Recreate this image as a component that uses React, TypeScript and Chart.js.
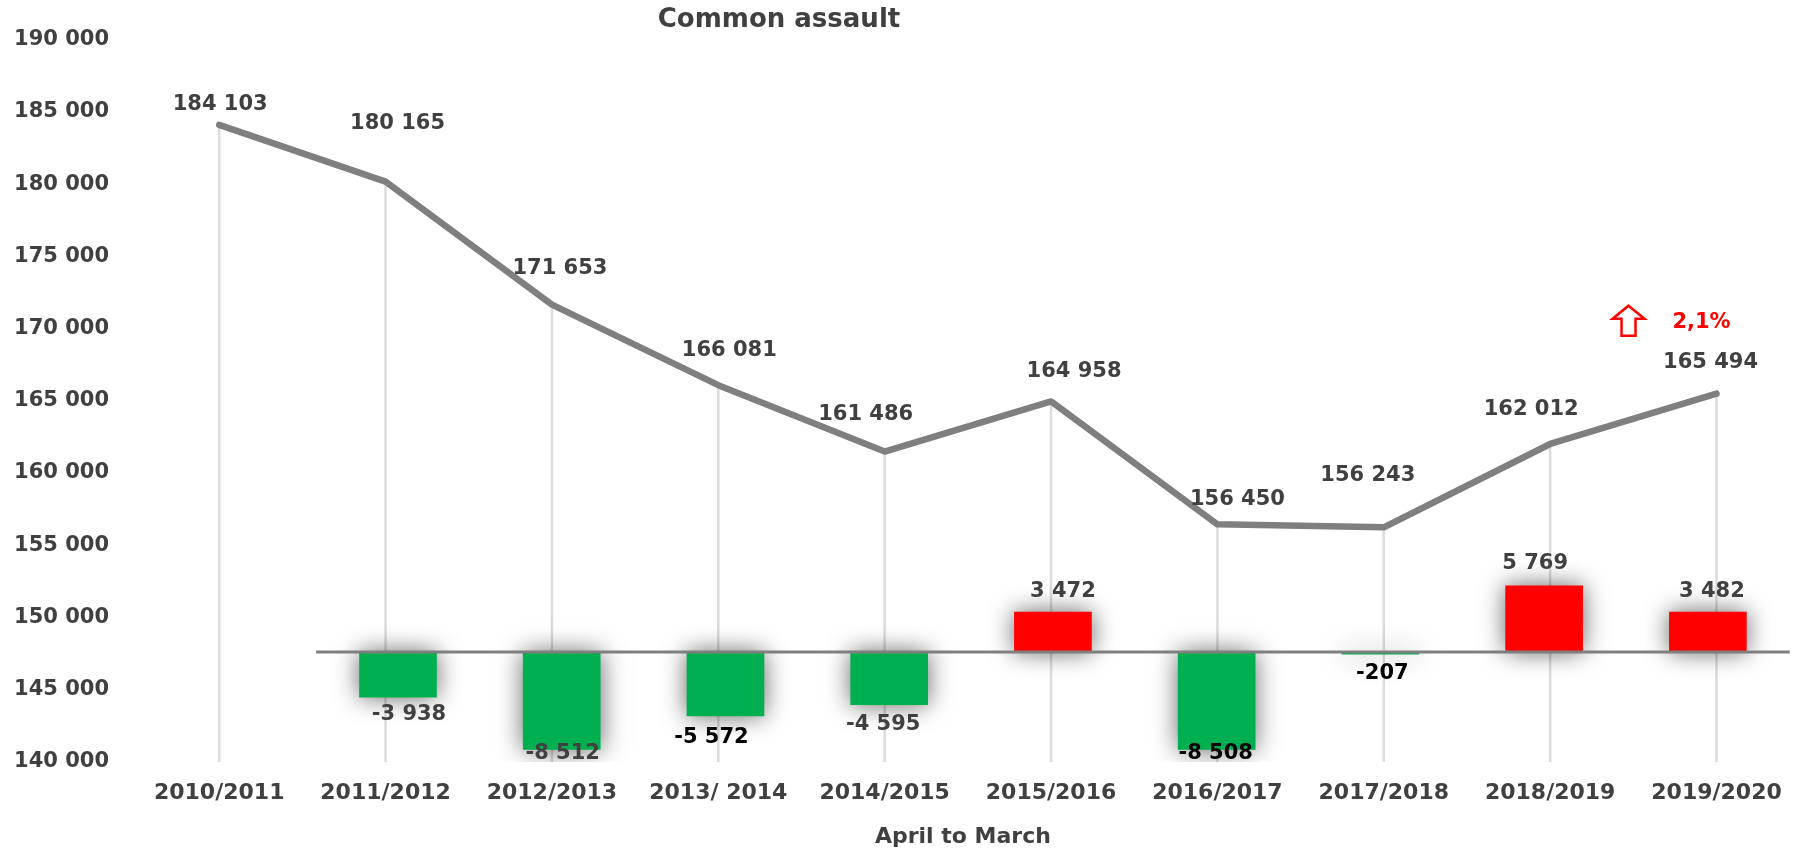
import React, { useEffect, useRef } from 'react';
import { Chart, registerables } from 'chart.js';

Chart.register(...registerables);

// ---------- data ----------
const chartTitle = 'Common assault';
const axisTitle = 'April to March';
const categories = ['2010/2011', '2011/2012', '2012/2013', '2013/ 2014', '2014/2015', '2015/2016', '2016/2017', '2017/2018', '2018/2019', '2019/2020'];
const totals = [184103, 180165, 171653, 166081, 161486, 164958, 156450, 156243, 162012, 165494];
// year-on-year change, for 2011/2012 .. 2019/2020
const changes = [-3938, -8512, -5572, -4595, 3472, -8508, -207, 5769, 3482];
const yMin = 140000;
const yMax = 190000;
const yStep = 5000;
const changeAxisMin = -9600;
const changeAxisMax = 53400;

// ---------- label placement / styling (Excel manual label positions) ----------
const totalLabelOffsets: [number, number][] = [[1, -20], [12, -58], [8, -36], [11, -35], [-19, -37], [23, -30], [20, -25], [-16, -52], [-19, -34], [-6, -31]];
const changeLabelOffsets: [number, number][] = [[11, 17], [1, 4], [-14, 22], [-6, 20], [10, -21], [-1, 4], [2, 19], [-9, -22], [4, -20]];
const changeLabelColors = ['#404040', '#404040', '#000000', '#404040', '#404040', '#000000', '#000000', '#404040', '#404040'];

const FONT = 'DejaVu Sans';
const TEXT = '#404040';
const LINE_GRAY = '#7f7f7f';
const GREEN = '#00B050';
const RED = '#FF0000';

const fmt = (v: number) => (v < 0 ? '-' : '') + Math.abs(v).toString().replace(/\B(?=(\d{3})+(?!\d))/g, ' ');

const decorPlugin = {
  id: 'decor',
  beforeDatasetsDraw(chart: any) {
    const { ctx, chartArea } = chart;
    const meta = chart.getDatasetMeta(0);
    ctx.save();
    ctx.strokeStyle = '#dcdcdc';
    ctx.lineWidth = 2.5;
    meta.data.forEach((p: any) => {
      ctx.beginPath();
      ctx.moveTo(p.x, p.y);
      ctx.lineTo(p.x, chartArea.bottom);
      ctx.stroke();
    });
    ctx.restore();
  },
  beforeDatasetDraw(chart: any, args: any) {
    if (args.index === 1) {
      const ctx = chart.ctx;
      ctx.save();
      ctx.shadowColor = 'rgba(0,0,0,0.6)';
      ctx.shadowBlur = 24;
      ctx.shadowOffsetX = 0;
      ctx.shadowOffsetY = 0;
    }
  },
  afterDatasetDraw(chart: any, args: any) {
    if (args.index === 1) {
      const ctx = chart.ctx;
      ctx.restore();
      const x2 = chart.scales.x2;
      const y2 = chart.scales.y2;
      ctx.save();
      ctx.strokeStyle = LINE_GRAY;
      ctx.lineWidth = 3;
      ctx.beginPath();
      ctx.moveTo(x2.getPixelForValue(0.5), y2.getPixelForValue(0));
      ctx.lineTo(chart.chartArea.right, y2.getPixelForValue(0));
      ctx.stroke();
      ctx.restore();
    }
  },
  afterDatasetsDraw(chart: any) {
    const { ctx } = chart;
    ctx.save();
    ctx.textAlign = 'center';
    ctx.textBaseline = 'middle';
    // line labels
    ctx.font = `bold 21px "${FONT}"`;
    ctx.fillStyle = TEXT;
    const lineMeta = chart.getDatasetMeta(0);
    lineMeta.data.forEach((p: any, i: number) => {
      const [dx, dy] = totalLabelOffsets[i];
      ctx.fillText(fmt(totals[i]), p.x + dx, p.y + dy);
    });
    // bar labels
    const barMeta = chart.getDatasetMeta(1);
    barMeta.data.forEach((b: any, j: number) => {
      const [dx, dy] = changeLabelOffsets[j];
      ctx.fillStyle = changeLabelColors[j];
      ctx.fillText(fmt(changes[j]), b.x + dx, b.y + dy);
    });
    // title
    ctx.fillStyle = TEXT;
    ctx.font = `bold 26px "${FONT}"`;
    ctx.fillText(chartTitle, 779, 20);
    // last change percentage with arrow
    const last = lineMeta.data[lineMeta.data.length - 1];
    const n = totals.length;
    const pct = ((totals[n - 1] - totals[n - 2]) / totals[n - 2]) * 100;
    const pctText = pct.toFixed(1).replace('.', ',') + '%';
    ctx.fillStyle = RED;
    ctx.font = `bold 21px "${FONT}"`;
    ctx.fillText(pctText, last.x - 15, last.y - 71.5);
    const ax = last.x - 88;
    const top = last.y - 88;
    const headBase = last.y - 75;
    const bottom = last.y - 58;
    ctx.beginPath();
    ctx.moveTo(ax, top);
    ctx.lineTo(ax + 16, headBase);
    ctx.lineTo(ax + 7, headBase);
    ctx.lineTo(ax + 7, bottom);
    ctx.lineTo(ax - 7, bottom);
    ctx.lineTo(ax - 7, headBase);
    ctx.lineTo(ax - 16, headBase);
    ctx.closePath();
    ctx.fillStyle = '#ffffff';
    ctx.fill();
    ctx.strokeStyle = RED;
    ctx.lineWidth = 2.5;
    ctx.lineJoin = 'miter';
    ctx.stroke();
    ctx.restore();
  },
};

export default function App() {
  const canvasRef = useRef<HTMLCanvasElement | null>(null);

  useEffect(() => {
    if (!canvasRef.current) return;
    const chart = new Chart(canvasRef.current, {
      type: 'bar',
      data: {
        datasets: [
          {
            type: 'line',
            label: 'Total',
            data: totals.map((v, i) => ({ x: i, y: v })),
            borderColor: LINE_GRAY,
            borderWidth: 6.5,
            borderCapStyle: 'round',
            borderJoinStyle: 'round',
            pointRadius: 0,
            tension: 0,
            xAxisID: 'x',
            yAxisID: 'y',
          } as any,
          {
            type: 'bar',
            label: 'Change',
            data: changes.map((v, j) => ({ x: j + 1, y: v })),
            backgroundColor: changes.map((v) => (v < 0 ? GREEN : RED)),
            borderWidth: 0,
            barThickness: 77,
            grouped: false,
            xAxisID: 'x2',
            yAxisID: 'y2',
          } as any,
        ],
      },
      options: {
        responsive: true,
        maintainAspectRatio: false,
        animation: false,
        layout: { padding: { top: 34, right: 5, bottom: 0, left: 0 } },
        plugins: {
          legend: { display: false },
          tooltip: { enabled: false },
          title: { display: false },
        },
        scales: {
          x: {
            type: 'linear',
            position: 'bottom',
            bounds: 'data',
            offset: false,
            min: -0.5,
            max: 9.44,
            grid: { display: false, drawTicks: false, offset: false },
            border: { display: false },
            afterBuildTicks: (axis: any) => {
              axis.ticks = categories.map((_, i) => ({ value: i }));
            },
            afterFit: (axis: any) => {
              axis.height = 88;
            },
            ticks: {
              autoSkip: false,
              maxRotation: 0,
              padding: 18,
              color: TEXT,
              font: { family: FONT, size: 22, weight: 'bold' },
              callback: (value: any) => categories[value as number] ?? '',
            },
            title: {
              display: true,
              text: axisTitle,
              color: TEXT,
              font: { family: FONT, size: 22, weight: 'bold' },
              padding: { top: 0, bottom: 0 },
            },
          },
          x2: {
            type: 'linear',
            position: 'bottom',
            display: false,
            bounds: 'data',
            offset: false,
            grid: { offset: false },
            min: -0.6,
            max: 9.5,
          },
          y: {
            type: 'linear',
            position: 'left',
            min: yMin,
            max: yMax,
            grid: { display: false, drawTicks: false },
            border: { display: false },
            afterFit: (axis: any) => {
              axis.width = 136;
            },
            ticks: {
              stepSize: yStep,
              padding: 27,
              color: TEXT,
              font: { family: FONT, size: 21, weight: 'bold' },
              callback: (value: any) => fmt(Number(value)),
            },
          },
          y2: {
            type: 'linear',
            position: 'right',
            display: false,
            min: changeAxisMin,
            max: changeAxisMax,
          },
        },
      } as any,
      plugins: [decorPlugin],
    });
    return () => chart.destroy();
  }, []);

  return (
    <div style={{ position: 'absolute', left: 0, top: 0, width: 1800, height: 850, background: '#ffffff' }}>
      <canvas ref={canvasRef} />
    </div>
  );
}
